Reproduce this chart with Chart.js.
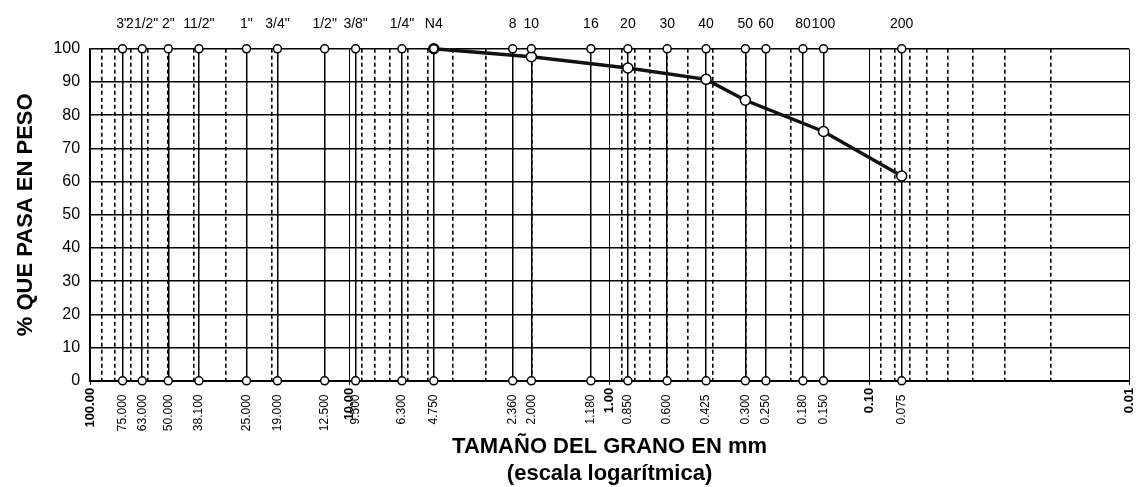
<!DOCTYPE html>
<html>
<head>
<meta charset="utf-8">
<title>Curva granulométrica</title>
<script src="https://cdn.jsdelivr.net/npm/chart.js@4.4.0/dist/chart.umd.min.js"></script>
<style>
    html, body { margin: 0; padding: 0; background: #fff; }
    #wrap { width: 1138px; height: 487px; }
</style>
</head>
<body>
<div id="wrap"><canvas id="granuloChart"></canvas></div>
<script>
// sieves (top labels) and their openings in mm (bottom labels)
const sieveNames = ['3"', '21/2"', '2"', '11/2"', '1"', '3/4"', '1/2"', '3/8"', '1/4"', 'N4',
    '8', '10', '16', '20', '30', '40', '50', '60', '80', '100', '200'];
const sieveSizes = [75, 63, 50, 38.1, 25, 19, 12.5, 9.5, 6.3, 4.75,
    2.36, 2.0, 1.18, 0.85, 0.6, 0.425, 0.3, 0.25, 0.18, 0.15, 0.075];
const sizeLabels = ['75.000', '63.000', '50.000', '38.100', '25.000', '19.000', '12.500', '9.500', '6.300', '4.750',
    '2.360', '2.000', '1.180', '0.850', '0.600', '0.425', '0.300', '0.250', '0.180', '0.150', '0.075'];

// decade marks of the log axis
const decades = [100, 10, 1, 0.1, 0.01];
const decadeLabels = ['100.00', '10.00', '1.00', '0.10', '0.01'];

// dashed log grid
const minorLines = [90, 80, 70, 60, 50, 40, 30, 20,
    9, 8, 7, 6, 5, 4, 3, 2,
    0.9, 0.8, 0.7, 0.6, 0.5, 0.4, 0.3, 0.2,
    0.09, 0.08, 0.07, 0.06, 0.05, 0.04, 0.03, 0.02];

// measured curve: % passing
const curveSizes = [4.75, 2.0, 0.85, 0.425, 0.3, 0.15, 0.075];
const curvePassing = [100, 97.6, 94.2, 90.8, 84.5, 75.1, 61.7];

const yTicks = [0, 10, 20, 30, 40, 50, 60, 70, 80, 90, 100];

const FONT = "'Liberation Sans', Arial, sans-serif";

function isDecade(v) {
    return decades.some(d => Math.abs(d - v) < 1e-9);
}

function setTicks(values) {
    return axis => { axis.ticks = values.map(v => ({ value: v })); };
}

const markerStyle = {
    type: 'scatter',
    showLine: false,
    pointRadius: 4,
    pointBorderWidth: 1.5,
    pointBackgroundColor: '#fff',
    pointBorderColor: '#000',
    clip: false
};

new Chart(document.getElementById('granuloChart'), {
    data: {
        datasets: [
            {
                type: 'line',
                data: curveSizes.map((s, i) => ({ x: s, y: curvePassing[i] })),
                borderColor: '#111',
                borderWidth: 3.5,
                pointRadius: 5,
                pointBorderWidth: 1.5,
                pointBackgroundColor: '#fff',
                pointBorderColor: '#000',
                clip: false,
                order: 2
            },
            Object.assign({ data: sieveSizes.map(s => ({ x: s, y: 100 })), order: 1 }, markerStyle),
            Object.assign({ data: sieveSizes.map(s => ({ x: s, y: 0 })), order: 1 }, markerStyle)
        ]
    },
    options: {
        responsive: true,
        maintainAspectRatio: false,
        animation: false,
        layout: { padding: { left: 0, right: 9, top: 0, bottom: 0 } },
        plugins: {
            legend: { display: false },
            tooltip: { enabled: false }
        },
        scales: {
            x: {
                type: 'logarithmic',
                position: 'bottom',
                reverse: true,
                min: 0.01,
                max: 100,
                afterBuildTicks: setTicks(decades.concat(sieveSizes)),
                ticks: {
                    autoSkip: false,
                    minRotation: 90,
                    maxRotation: 90,
                    padding: 3,
                    color: '#000',
                    font: ctx => isDecade(ctx.tick.value)
                        ? { family: FONT, size: 13, weight: 'bold' }
                        : { family: FONT, size: 12 },
                    callback: value => {
                        const d = decades.findIndex(v => Math.abs(v - value) < 1e-9);
                        if (d >= 0) return decadeLabels[d];
                        const i = sieveSizes.findIndex(v => Math.abs(v - value) < 1e-9);
                        return i >= 0 ? sizeLabels[i] + '  ' : '';
                    }
                },
                grid: {
                    color: '#000',
                    lineWidth: ctx => isDecade(ctx.tick.value) ? 1 : 1.5,
                    drawTicks: true,
                    tickLength: 4,
                    tickColor: ctx => isDecade(ctx.tick.value) ? '#000' : 'rgba(0,0,0,0)'
                },
                border: { display: true, color: '#000', width: 2 },
                title: {
                    display: true,
                    text: ['TAMAÑO DEL GRANO EN mm', '(escala logarítmica)'],
                    color: '#000',
                    font: { family: FONT, size: 22, weight: 'bold', lineHeight: 1.2 },
                    padding: { top: 0, bottom: 0 }
                }
            },
            xMinor: {
                type: 'logarithmic',
                position: 'bottom',
                reverse: true,
                min: 0.01,
                max: 100,
                afterBuildTicks: setTicks(minorLines),
                ticks: { display: false },
                grid: { color: '#000', lineWidth: 1.6, drawTicks: false },
                border: { display: false, dash: [4, 3] }
            },
            xTop: {
                type: 'logarithmic',
                position: 'top',
                reverse: true,
                min: 0.01,
                max: 100,
                afterBuildTicks: setTicks(sieveSizes),
                ticks: {
                    autoSkip: false,
                    maxRotation: 0,
                    minRotation: 0,
                    padding: 16,
                    color: '#000',
                    font: { family: FONT, size: 14 },
                    callback: value => {
                        const i = sieveSizes.findIndex(v => Math.abs(v - value) < 1e-9);
                        return i >= 0 ? sieveNames[i] : '';
                    }
                },
                grid: { display: false, drawTicks: false },
                border: { display: false }
            },
            y: {
                min: 0,
                max: 100,
                afterBuildTicks: setTicks(yTicks),
                ticks: {
                    padding: 10,
                    color: '#000',
                    font: { family: FONT, size: 16 }
                },
                grid: { color: '#000', lineWidth: 1.5, drawTicks: false },
                border: { display: true, color: '#000', width: 1.5 },
                title: {
                    display: true,
                    text: '% QUE PASA EN PESO',
                    color: '#000',
                    font: { family: FONT, size: 22, weight: 'bold', lineHeight: 1.2 },
                    padding: { top: 13, bottom: 4 }
                }
            }
        }
    }
});
</script>
</body>
</html>
